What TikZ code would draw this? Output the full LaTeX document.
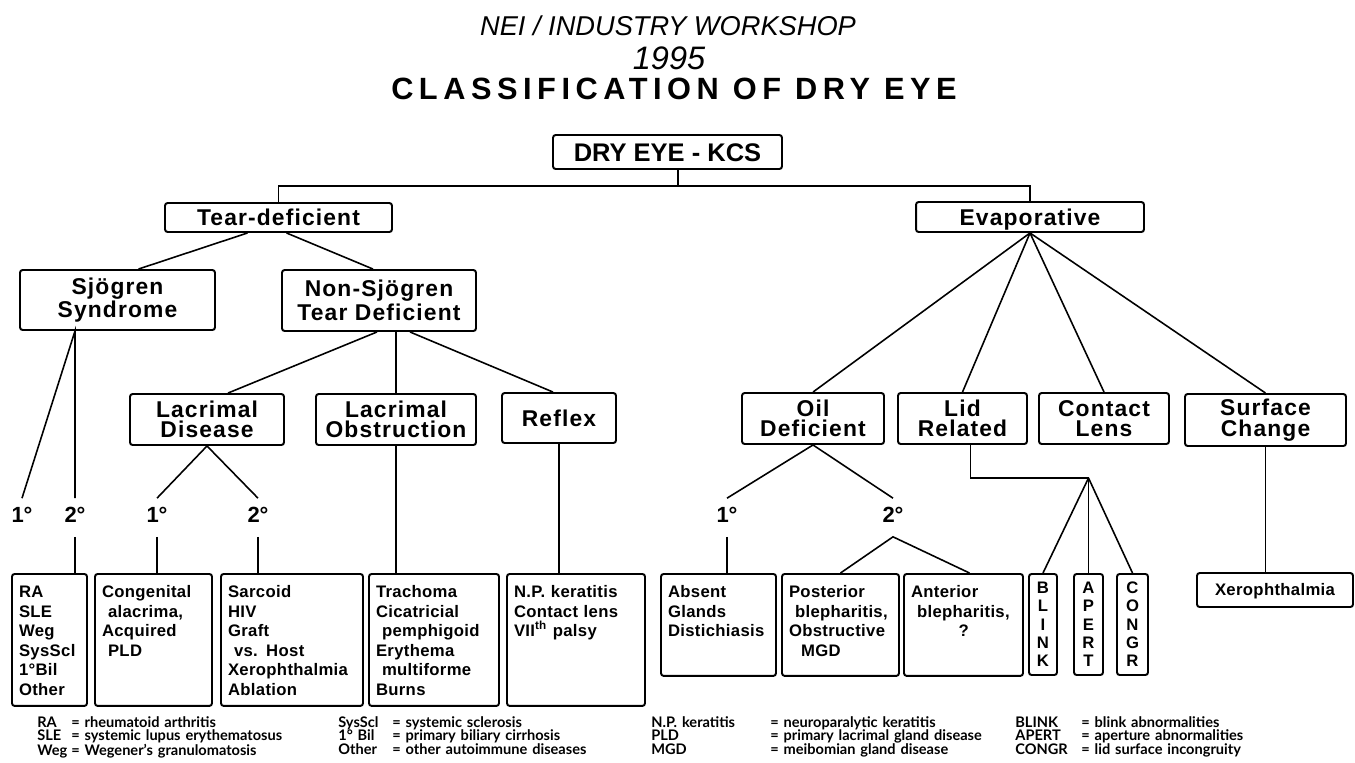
\documentclass[tikz,border=0pt]{standalone}
\usepackage{fontspec}
\setmainfont{Liberation Sans}
\newfontfamily\boxfont[LetterSpace=5]{Liberation Sans}
\newfontfamily\leaffont[LetterSpace=2]{Liberation Sans}
\newfontfamily\widefont[LetterSpace=18]{Liberation Sans}
\newfontfamily\keyfont{Lato}
\usetikzlibrary{calc}

\begin{document}
\begin{tikzpicture}[
  x=0.02cm, y=-0.02cm,
  box/.style={draw, line width=1.1pt, rounded corners=1.5pt, inner sep=0pt, align=center,
    font=\boxfont\bfseries\fontsize{13}{11.6}\selectfont},
  onebox/.style={box, text height=9.3pt, text depth=0pt},
  topbox/.style={box, font=\boxfont\bfseries\fontsize{13}{13.5}\selectfont},
  leaf/.style={draw, line width=1.1pt, rounded corners=1.5pt, anchor=north, align=left,
    inner xsep=0.14cm, inner ysep=0pt, text height=13.4pt, text depth=61.7pt,
    font=\leaffont\bfseries\fontsize{9.5}{11.1}\selectfont},
  shortleaf/.style={leaf, text depth=44.6pt},
  letters/.style={leaf, align=center, inner xsep=0pt, text height=11.1pt, text depth=46.4pt,
    font=\bfseries\fontsize{9.5}{10.4}\selectfont},
  deg/.style={font=\bfseries\fontsize{12.5}{12.5}\selectfont, inner sep=5pt, text height=8.6pt, text depth=3pt},
  keytext/.style={anchor=base west, inner sep=0pt, align=left,
    font=\keyfont\bfseries\fontsize{8.3}{7.7}\selectfont},
  link/.style={line width=0.9pt}
]
\useasboundingbox (0,0) rectangle (1355,762);

% heading
\node[anchor=base, font=\itshape\fontsize{15.5}{15.5}\selectfont] (nei) at (668,35) {NEI / INDUSTRY WORKSHOP};
\node[anchor=base, font=\itshape\fontsize{18.5}{18.5}\selectfont] (year) at (669,69) {1995};
\node[anchor=base, font=\widefont\bfseries\fontsize{17.5}{17.5}\selectfont] (title) at (674,99) {CLASSIFICATION OF DRY EYE};

% upper levels
\node[onebox, font=\bfseries\fontsize{14.5}{14.5}\selectfont, text height=10.4pt, minimum width=4.58cm, minimum height=0.68cm] (kcs) at (667.5,152) {DRY EYE - KCS};
\node[onebox, minimum width=4.54cm, minimum height=0.58cm] (tear) at (278.5,217.5) {Tear-deficient};
\node[onebox, minimum width=4.56cm, minimum height=0.6cm] (evap) at (1030,217) {Evaporative};
\node[topbox, minimum width=3.9cm, minimum height=1.2cm] (sjo) at (117.5,300) {Sjögren\\Syndrome};
\node[topbox, minimum width=3.88cm, minimum height=1.22cm] (nonsjo) at (379,300.5) {Non-Sjögren\\Tear Deficient};

% middle level
\node[box, minimum width=3.08cm, minimum height=1.02cm] (lacd) at (207,419.5) {Lacrimal\\Disease};
\node[box, minimum width=3.2cm, minimum height=1.02cm] (laco) at (396,419.5) {Lacrimal\\Obstruction};
\node[onebox, minimum width=2.28cm, minimum height=1cm] (reflex) at (559,418) {Reflex};
\node[box, minimum width=2.84cm, minimum height=1.02cm] (oil) at (813,418.5) {Oil\\Deficient};
\node[box, minimum width=2.58cm, minimum height=1.02cm] (lid) at (962.5,418.5) {Lid\\Related};
\node[box, minimum width=2.6cm, minimum height=1.02cm] (lens) at (1104,418.5) {Contact\\Lens};
\node[box, minimum width=3.22cm, minimum height=1.04cm] (surf) at (1265.5,420) {Surface\\Change};

% primary / secondary
\node[deg] (s1) at (22,517.5) {1°};
\node[deg] (s2) at (75,517.5) {2°};
\node[deg] (l1) at (157,517.5) {1°};
\node[deg] (l2) at (258,517.5) {2°};
\node[deg] (o1) at (727,517.5) {1°};
\node[deg] (o2) at (893,517.5) {2°};

% bottom boxes
\node[leaf, text width=1.22cm] (ra) at (49.5,573) {RA\\SLE\\Weg\\SysScl\\1°Bil\\Other};
\node[leaf, text width=2.06cm] (cong) at (153.5,573) {Congenital\\\hspace*{0.12cm}alacrima,\\Acquired\\\hspace*{0.12cm}PLD};
\node[leaf, text width=2.56cm] (sarc) at (292,573) {Sarcoid\\HIV\\Graft\\\hspace*{0.12cm}vs. Host\\Xerophthalmia\\Ablation};
\node[leaf, text width=2.32cm] (trach) at (434,573) {Trachoma\\Cicatricial\\\hspace*{0.12cm}pemphigoid\\Erythema\\\hspace*{0.12cm}multiforme\\Burns};
\node[leaf, text width=2.48cm] (np) at (576,573) {N.P. keratitis\\Contact lens\\VII\textsuperscript{th} palsy};
\node[shortleaf, text width=2.02cm] (absent) at (718.5,573) {Absent\\Glands\\Distichiasis};
\node[shortleaf, text width=2.06cm] (post) at (840.5,573) {Posterior\\\hspace*{0.12cm}blepharitis,\\Obstructive\\\hspace*{0.24cm}MGD};
\node[shortleaf, text width=2.10cm] (ant) at (963.5,573) {Anterior\\\hspace*{0.12cm}blepharitis,\\\hspace*{0.95cm}?};
\node[letters, text width=0.56cm] (blink) at (1043,573) {B\\L\\I\\N\\K};
\node[letters, text width=0.58cm] (apert) at (1088.5,573) {A\\P\\E\\R\\T};
\node[letters, text width=0.62cm] (congr) at (1132.5,573) {C\\O\\N\\G\\R};
\node[onebox, font=\leaffont\bfseries\fontsize{9.5}{11}\selectfont, text height=6.8pt, minimum width=3.12cm, minimum height=0.68cm] (xero) at (1275,590) {Xerophthalmia};

% connectors
\coordinate (trunk) at (678,186);
\draw[link] (kcs.south -| trunk) -- (trunk);
\draw[link] (tear) |- (trunk) -| (evap);
\draw[link] ($(tear.south)+(-31,0)$) -- ($(sjo.north)+(21,0)$);
\draw[link] ($(tear.south)+(8,0)$) -- ($(nonsjo.north)+(-6,0)$);
\coordinate (sjofork) at ($(sjo.south)+(-42.5,0)$);
\draw[link] (s1.north) -- (sjofork) -- (s2.north);
\draw[link] (s2.south) -- (s2.south |- ra.north);
\draw[link] ($(nonsjo.south)+(-2,0)$) -- ($(lacd.north)+(21,0)$);
\draw[link] (laco.north) -- (laco.north |- nonsjo.south);
\draw[link] ($(nonsjo.south)+(31,0)$) -- ($(reflex.north)+(-6,0)$);
\draw[link] (l1.north) -- (lacd.south) -- (l2.north);
\draw[link] (l1.south) -- (l1.south |- cong.north);
\draw[link] (l2.south) -- (l2.south |- sarc.north);
\draw[link] (laco.south) -- (laco.south |- trach.north);
\draw[link] (reflex.south) -- (reflex.south |- np.north);

\foreach \n in {oil, lid, lens, surf}
  \draw[link] (evap.south) -- (\n.north);
\draw[link] (o1.north) -- (oil.south) -- (o2.north);
\draw[link] (o1.south) -- (o1.south |- absent.north);
\draw[link] (post.north) -- (o2.south) -- ($(ant.north)+(6,0)$);
\coordinate (lidfork) at (1088.5,478);
\draw[link] ($(lid.south)+(8,0)$) |- (lidfork);
\foreach \n in {blink, apert, congr}
  \draw[link] (lidfork) -- (\n.north);
\draw[link] (surf.south) -- (surf.south |- xero.north);

% key
\node[keytext, text width=6cm] (key1) at (37,727) {\makebox[0.68cm][l]{RA}= rheumatoid arthritis\\\makebox[0.68cm][l]{SLE}= systemic lupus erythematosus\\\makebox[0.68cm][l]{Weg}= Wegener’s granulomatosis};
\node[keytext, text width=6cm] (key2) at (338,727) {\makebox[1.08cm][l]{SysScl}= systemic sclerosis\\\makebox[1.08cm][l]{1° Bil}= primary biliary cirrhosis\\\makebox[1.08cm][l]{Other}= other autoimmune diseases};
\node[keytext, text width=7.2cm] (key3) at (651,727) {\makebox[2.38cm][l]{N.P. keratitis}= neuroparalytic keratitis\\\makebox[2.38cm][l]{PLD}= primary lacrimal gland disease\\\makebox[2.38cm][l]{MGD}= meibomian gland disease};
\node[keytext, text width=6.8cm] (key4) at (1015,727) {\makebox[1.32cm][l]{BLINK}= blink abnormalities\\\makebox[1.32cm][l]{APERT}= aperture abnormalities\\\makebox[1.32cm][l]{CONGR}= lid surface incongruity};

\end{tikzpicture}
\end{document}
